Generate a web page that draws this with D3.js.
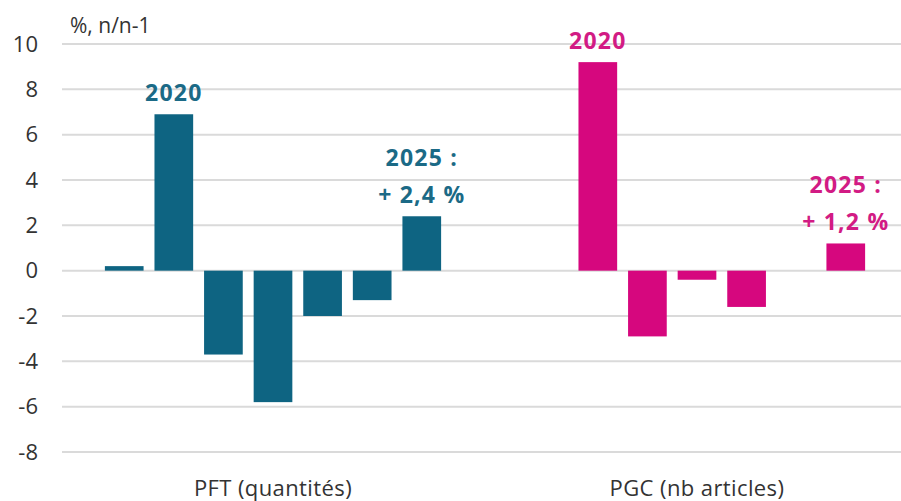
<!DOCTYPE html>
<meta charset="utf-8">
<style>
body { margin: 0; background: #fff; }
text { font-family: "Open Sans", "Noto Sans", sans-serif; }
.grid line { stroke: #dadada; stroke-width: 2px; }
.tick-label { font-size: 22px; fill: #333; }
.cat-label { font-size: 22px; fill: #333; letter-spacing: 0.4px; }
.note { font-size: 23px; font-weight: bold; letter-spacing: 1.2px; }
</style>
<body>
<script src="https://cdnjs.cloudflare.com/ajax/libs/d3/7.8.5/d3.min.js"></script>
<script>

// data
var groups = ["PFT (quantités)", "PGC (nb articles)"];
var years = ["2019", "2020", "2021", "2022", "2023", "2024", "2025"];
var pft = [0.2, 6.9, -3.7, -5.8, -2.0, -1.3, 2.4];
var pgc = [null, 9.2, -2.9, -0.4, -1.6, null, 1.2];
var yTicks = [-8, -6, -4, -2, 0, 2, 4, 6, 8, 10];
var colors = ["#0e6482", "#d6077e"];
var labelColors = ["#1b6a86", "#d21b84"];
// annotations: group index, year, lines of text
var notes = [
  {g: 0, year: "2020", lines: ["2020"]},
  {g: 0, year: "2025", lines: ["2025 :", "+ 2,4 %"]},
  {g: 1, year: "2020", lines: ["2020"]},
  {g: 1, year: "2025", lines: ["2025 :", "+ 1,2 %"]}
];

var width = 901, height = 501;
var svg = d3.select("body").append("svg")
    .attr("width", width)
    .attr("height", height);

var y = d3.scaleLinear().domain([-8, 10]).range([452, 44]);

var x0 = d3.scaleBand().domain(groups).range([61, 909]).padding(0);
var x1 = d3.scaleBand().domain(years).range([0, x0.bandwidth()])
    .paddingInner(0.22).paddingOuter(0.885);

// grid lines
var grid = svg.append("g").attr("class", "grid");
grid.selectAll("line").data(yTicks).enter().append("line")
    .attr("x1", 62).attr("x2", width)
    .attr("y1", function(d) { return y(d); })
    .attr("y2", function(d) { return y(d); });

// y tick labels
svg.selectAll(".tick-label").data(yTicks).enter().append("text")
    .attr("class", "tick-label")
    .attr("x", 38)
    .attr("y", function(d) { return y(d); })
    .attr("dy", "0.35em")
    .attr("text-anchor", "end")
    .text(function(d) { return d; });

svg.append("text")
    .attr("class", "tick-label")
    .attr("x", 70).attr("y", 33)
    .style("font-size", "21px")
    .text("%, n/n-1");

var series = [pft, pgc];

groups.forEach(function(gname, gi) {
  var data = years.map(function(yr, i) { return {year: yr, value: series[gi][i]}; })
      .filter(function(d) { return d.value != null; });

  svg.append("g")
      .attr("transform", "translate(" + x0(gname) + ",0)")
    .selectAll("rect").data(data).enter().append("rect")
      .attr("x", function(d) { return x1(d.year); })
      .attr("width", x1.bandwidth())
      .attr("y", function(d) { return y(Math.max(0, d.value)); })
      .attr("height", function(d) { return Math.abs(y(d.value) - y(0)); })
      .style("fill", colors[gi]);

  svg.append("text")
      .attr("class", "cat-label")
      .attr("x", x0(gname) + x0.bandwidth() / 2)
      .attr("y", 496)
      .attr("text-anchor", "middle")
      .text(gname);
});

// annotations above bars
notes.forEach(function(n) {
  var v = series[n.g][years.indexOf(n.year)];
  var cx = x0(groups[n.g]) + x1(n.year) + x1.bandwidth() / 2;
  var top = y(v);
  var t = svg.append("text")
      .attr("class", "note")
      .attr("text-anchor", "middle")
      .style("fill", labelColors[n.g]);
  n.lines.forEach(function(line, i) {
    var k = n.lines.length - 1 - i;
    t.append("tspan")
        .attr("x", cx)
        .attr("y", top - 13 - k * 37)
        .text(line);
  });
});

</script>
</body>
